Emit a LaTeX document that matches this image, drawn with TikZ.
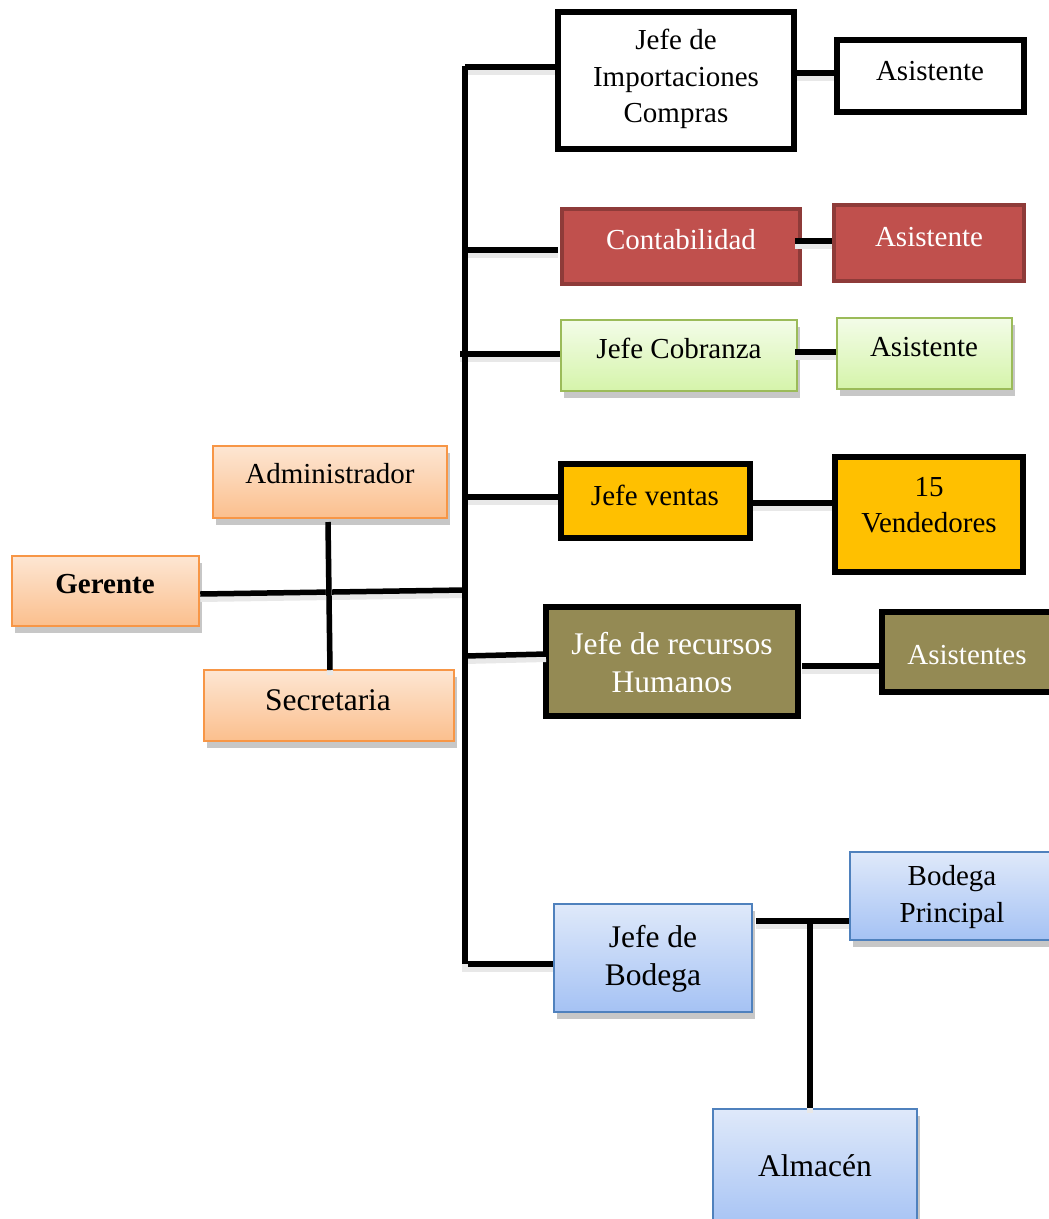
\documentclass[tikz,border=0pt]{standalone}
\usepackage{fontspec}
\setmainfont{Liberation Serif}
\usetikzlibrary{shadows}

\definecolor{orgTop}{HTML}{FDE6D3}
\definecolor{orgBot}{HTML}{FBBF8D}
\definecolor{orgLine}{HTML}{F79646}
\definecolor{grnTop}{HTML}{F3FCE8}
\definecolor{grnBot}{HTML}{D5F4AA}
\definecolor{grnLine}{HTML}{9BBB59}
\definecolor{bluTop}{HTML}{DFE9FA}
\definecolor{bluBot}{HTML}{A5C2F4}
\definecolor{bluLine}{HTML}{4F81BD}
\definecolor{redFill}{HTML}{C0504D}
\definecolor{redLine}{HTML}{8E3B39}
\definecolor{gold}{HTML}{FFC000}
\definecolor{olive}{HTML}{948A54}

\tikzset{
  box/.style={rectangle, inner sep=0pt},
  softshadow/.style={drop shadow={shadow xshift=3pt, shadow yshift=-7pt, fill=black, opacity=0.22}},
  orangebox/.style={box, draw=orgLine, line width=2.5pt, top color=orgTop, bottom color=orgBot, softshadow},
  greenbox/.style={box, draw=grnLine, line width=2.5pt, top color=grnTop, bottom color=grnBot, softshadow},
  bluebox/.style={box, draw=bluLine, line width=2.5pt, top color=bluTop, bottom color=bluBot, softshadow},
  whitebox/.style={box, draw=black, line width=5.5pt, fill=white},
  redbox/.style={box, draw=redLine, line width=4.5pt, fill=redFill},
  goldbox/.style={box, draw=black, line width=5.5pt, fill=gold},
  olivebox/.style={box, draw=black, line width=5.5pt, fill=olive},
  lbl/.style={inner sep=0pt, align=center, font=\fontsize{29}{36.5}\selectfont},
  biglbl/.style={lbl, font=\fontsize{31.5}{38}\selectfont},
  lblw/.style={lbl, text=white},
  conn/.style={line width=5.5pt, black,
    preaction={draw=black!9, line width=6pt, transform canvas={yshift=-5pt}}},
}

\begin{document}
\begin{tikzpicture}[x=1pt, y=-1pt]
\useasboundingbox (0,0) rectangle (1049,1219);
\clip (0,0) rectangle (1049,1219);
\fill[white] (0,0) rectangle (1049,1219);

% ---- connector anchor points ----
\coordinate (trTop) at (465,66);
\coordinate (trBot) at (465,964);
\coordinate (b1) at (465,67);
\coordinate (b2) at (465,250);
\coordinate (b3) at (460,354);
\coordinate (b4) at (465,497);
\coordinate (b5) at (465,656);
\coordinate (b6) at (462,964);
\coordinate (gJoin) at (465,590);
\coordinate (bJoin) at (810,921);

% ---- boxes ----
\node[orangebox, minimum width=187pt, minimum height=70pt] (ger) at (105.5,591) {};
\node[orangebox, minimum width=234pt, minimum height=72pt] (adm) at (330,482) {};
\node[orangebox, minimum width=250pt, minimum height=71pt] (sec) at (329,705.5) {};

\node[whitebox, minimum width=236pt, minimum height=137pt] (imp) at (676,80.5) {};
\node[whitebox, minimum width=187pt, minimum height=72pt] (as1) at (930.5,76) {};

\node[redbox, minimum width=238pt, minimum height=75pt] (con) at (681,246.5) {};
\node[redbox, minimum width=190pt, minimum height=76pt] (as2) at (929,243) {};

\node[greenbox, minimum width=236pt, minimum height=71pt] (cob) at (679,355.5) {};
\node[greenbox, minimum width=175pt, minimum height=71pt] (as3) at (924.5,353.5) {};

\node[goldbox, minimum width=189pt, minimum height=74pt] (ven) at (655.5,501) {};
\node[goldbox, minimum width=188pt, minimum height=115pt] (vnd) at (929,514.5) {};

\node[olivebox, minimum width=252pt, minimum height=109pt] (rh) at (672,661.5) {};
\node[olivebox, minimum width=178pt, minimum height=80pt] (as4) at (971,652) {};

\node[bluebox, minimum width=198pt, minimum height=108pt] (jb) at (653,958) {};
\node[bluebox, minimum width=210pt, minimum height=88pt] (bp) at (955,896) {};
\node[bluebox, minimum width=204pt, minimum height=121pt] (alm) at (815,1169.5) {};

% ---- labels ----
\node[lbl, font=\fontsize{29}{36.5}\selectfont\bfseries] (ger-t) at (105,584) {Gerente};
\node[lbl] (adm-t) at (330,474) {Administrador};
\node[biglbl] (sec-t) at (328,700) {Secretaria};
\node[lbl] (imp-t) at (676,79) {Jefe de\\Importaciones\\Compras};
\node[lbl] (as1-t) at (930,71) {Asistente};
\node[lblw] (con-t) at (681,240) {Contabilidad};
\node[lblw] (as2-t) at (929,237) {Asistente};
\node[lbl] (cob-t) at (679,348) {Jefe Cobranza};
\node[lbl] (as3-t) at (924,347) {Asistente};
\node[lbl] (ven-t) at (655,495) {Jefe ventas};
\node[lbl] (vnd-t) at (929,505) {15\\Vendedores};
\node[biglbl, text=white] (rh-t) at (672,663) {Jefe de recursos\\Humanos};
\node[lblw] (as4-t) at (967,655) {Asistentes};
\node[biglbl] (jb-t) at (653,959) {Jefe de\\Bodega};
\node[lbl] (bp-t) at (952,897) {Bodega\\Principal};
\node[biglbl] (alm-t) at (815,1166) {Almacén};

% ---- connectors: horizontal branches first, vertical lines on top ----
\draw[conn] (b1) -- (b1 -| imp.west);
\draw[conn] (b2) -- (558,250);
\draw[conn] (b3) -- (b3 -| cob.west);
\draw[conn] (b4) -- (b4 -| ven.west);
\draw[conn] (b5) -- (546,654);
\draw[conn] (b6) -- (b6 -| jb.west);
\draw[conn] (ger.east |- 0,594) -- (gJoin);

\draw[conn] (imp.east |- 0,73) -- (as1.west |- 0,73);
\draw[conn] (795,241) -- (as2.west |- 0,241);
\draw[conn] (795,352) -- (as3.west |- 0,352);
\draw[conn] (ven.east |- 0,503) -- (vnd.west |- 0,503);
\draw[conn] (802,666) -- (as4.west |- 0,666);
\draw[conn] (756,921) -- (bp.west |- 0,921);

\draw[conn] (trTop) -- (trBot);
\draw[conn] (328,522) -- (330,670);
\draw[conn] (bJoin) -- (bJoin |- alm.north);
\end{tikzpicture}
\end{document}
